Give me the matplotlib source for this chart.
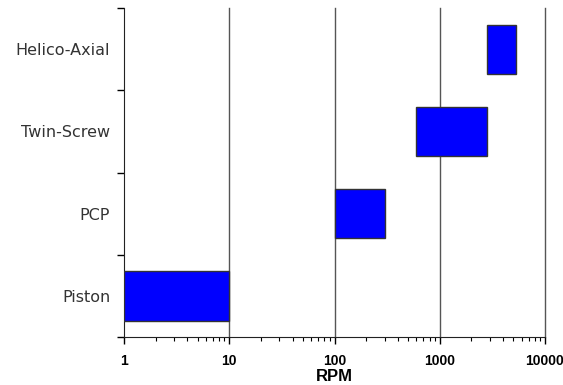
import numpy as np
import matplotlib.pyplot as plt
from matplotlib.ticker import LogLocator, NullFormatter, FixedLocator

# pump types and their operating speed ranges (rpm)
pumps = ["Piston", "PCP", "Twin-Screw", "Helico-Axial"]
rpm_low = [1, 100, 600, 2800]
rpm_high = [10, 300, 2800, 5300]
xtick_vals = [1, 10, 100, 1000, 10000]
xtick_labels = ["1", "10", "100", "1000", "10000"]

fig = plt.figure(figsize=(5.63, 3.85), dpi=100)
ax = fig.add_axes([0.2203, 0.1247, 0.7477, 0.8543])

y = np.arange(len(pumps))
widths = np.array(rpm_high) - np.array(rpm_low)
ax.barh(y, widths, left=rpm_low, height=0.6, color="#0000ff",
        edgecolor="#333333", linewidth=1.0, zorder=3)

ax.set_xscale("log")
ax.set_xlim(1, 10000)
ax.set_ylim(-0.5, 3.5)

# vertical grid at the decades
for v in xtick_vals[1:]:
    ax.axvline(v, color="#555555", linewidth=1.0, zorder=1, clip_on=False)

ax.set_xticks(xtick_vals)
ax.set_xticklabels(xtick_labels, fontfamily="Liberation Sans",
                   fontweight="bold", fontsize=10)
ax.xaxis.set_minor_locator(LogLocator(base=10, subs=np.arange(2, 10)))
ax.xaxis.set_minor_formatter(NullFormatter())
ax.tick_params(axis="x", which="major", length=5, width=1, direction="out", pad=7)
ax.tick_params(axis="x", which="minor", length=3, width=0.8, direction="out")

ax.set_yticks(y)
ax.set_yticklabels(pumps, fontfamily="DejaVu Sans", fontsize=11.5, color="#333333")
ax.yaxis.set_minor_locator(FixedLocator(np.arange(-0.5, 3.6, 1.0)))
ax.tick_params(axis="y", which="major", length=0, pad=10)
ax.tick_params(axis="y", which="minor", length=5, width=1, direction="out")

ax.spines["top"].set_visible(False)
ax.spines["right"].set_visible(False)
ax.spines["left"].set_color("#222222")
ax.spines["bottom"].set_color("#222222")

ax.set_xlabel("RPM", fontfamily="Liberation Sans", fontweight="bold",
              fontsize=12, labelpad=1)

fig.savefig("out.png", dpi=100)
